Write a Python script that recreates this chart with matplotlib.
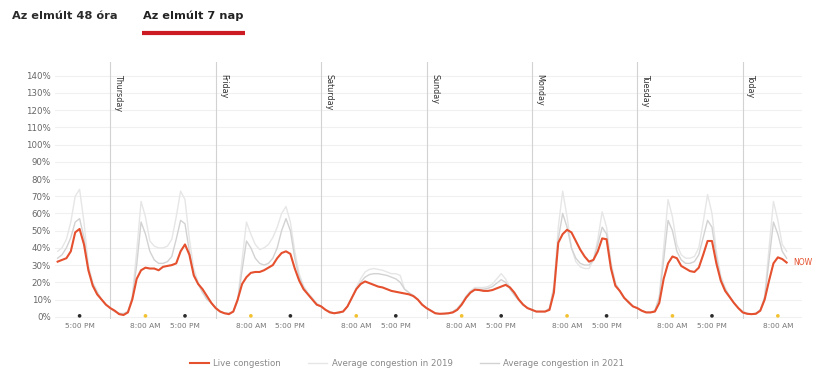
import numpy as np
import matplotlib
matplotlib.use("Agg")
import matplotlib.pyplot as plt

# Hours are counted from Thursday 00:00; the series begin on Wednesday 12:00.
start_hour = -12
day_names = ["Thursday", "Friday", "Saturday", "Sunday", "Monday", "Tuesday", "Today"]

live = [
    32, 33, 34, 38, 49, 51, 42, 27, 18, 13, 10, 7,                                   # Wed 12-23
    5, 3.5, 1.5, 1, 2.5, 10, 22, 27, 28.5, 28, 28, 27,
    29, 29.5, 30, 31, 38, 42, 36, 24, 19, 16, 12, 8,                                  # Thu
    5, 3, 2, 1.5, 3, 10, 19, 23, 25.5, 26, 26, 27,
    28.5, 30, 34, 37, 38, 36.5, 28, 21, 16, 13, 10, 7,                                # Fri
    6, 4, 2.5, 2, 2.5, 3, 6, 11, 16, 19, 20.5, 19.5,
    18.5, 17.5, 17, 16, 15, 14.5, 14, 13.5, 13, 12, 10, 7,                            # Sat
    5, 3.5, 2, 1.7, 1.8, 2, 2.5, 4, 7, 11, 14, 15.7,
    15.5, 15, 15, 15.5, 16.5, 17.5, 18.5, 17, 14, 10, 7, 5,                           # Sun
    4, 3, 3, 3, 4, 14, 43, 48, 50.5, 49, 44, 39,
    35, 32, 33, 38, 45.5, 45, 28, 18, 15, 11, 8.5, 6,                                 # Mon
    5, 3.5, 2.5, 2.5, 3, 8, 22, 31, 35, 34, 29.5, 28,
    26.5, 26, 28.5, 36, 44, 44, 31, 21, 15, 11.5, 8, 5,                               # Tue
    2.5, 1.7, 1.5, 1.7, 3.5, 10, 21, 31, 34.5, 33.5, 31.5,                            # Today 0-10
]

avg_2019 = [
    38, 40, 45, 55, 70, 74, 55, 30, 20, 15, 10, 7,
    5, 3, 2, 2, 3, 12, 38, 67, 58, 44, 41, 40,
    40, 41, 45, 58, 73, 68, 45, 28, 20, 15, 11, 8,
    5, 3, 2, 2, 3, 10, 33, 55, 48, 42, 39, 40,
    42, 46, 52, 60, 64, 55, 38, 25, 18, 14, 11, 8,
    6, 4, 3, 2, 2, 3, 6, 11, 17, 22, 26, 27.5,
    28, 27.5, 27, 26, 25, 25, 24, 16, 14, 12.5, 10, 7,
    5, 3.5, 2, 1.7, 1.8, 2, 3, 5, 8, 12, 15, 17,
    17, 17, 17.5, 19, 22, 25, 22, 17, 13, 10, 7, 5,
    4, 3, 3, 3, 5, 18, 52, 73, 58, 40, 32, 29,
    28, 28, 33, 45, 61, 52, 32, 20, 15, 11, 8, 6,
    5, 3.5, 2.5, 2.5, 3.5, 12, 40, 68, 58, 42, 36, 34,
    34, 35, 40, 55, 71, 60, 38, 24, 17, 12, 8, 5,
    3, 2, 1.5, 2, 4, 12, 40, 67, 56, 42, 38,
]

avg_2021 = [
    34, 36, 40, 46, 55, 57, 46, 28, 19, 14, 10, 7,
    5, 3, 2, 1.5, 3, 11, 30, 55, 48, 38, 33, 31,
    31, 32, 35, 45, 56, 54, 38, 25, 19, 14, 10, 8,
    5, 3, 2, 2, 3, 9, 27, 44, 40, 34, 31, 30,
    31, 34, 40, 50, 57, 50, 34, 23, 17, 13, 10, 7,
    6, 4, 3, 2, 2, 3, 6, 11, 16, 20, 23, 24.5,
    25, 25, 24.5, 24, 23, 22, 20, 16, 14, 12, 10, 7,
    5, 3.5, 2, 1.7, 1.8, 2, 3, 4.5, 7.5, 11.5, 14.5, 16,
    16, 16, 16.5, 17.5, 19.5, 21.5, 20, 16, 12.5, 9.5, 7, 5,
    4, 3, 3, 3, 5, 17, 45, 60, 52, 40, 34, 31,
    30, 30, 33, 42, 52, 48, 30, 19, 15, 11, 8, 6,
    5, 3.5, 2.5, 2.5, 3.5, 11, 33, 56, 50, 38, 33, 31,
    31, 32, 36, 46, 56, 52, 35, 22, 16, 12, 8, 5,
    3, 2, 1.5, 2, 4, 11, 33, 55, 48, 38, 34,
]

# Morning / evening markers under the axis
marker_hours = [-7] + [h for d in range(6) for h in (24 * d + 8, 24 * d + 17)] + [6 * 24 + 8]
marker_labels = ["5:00 PM"] + ["8:00 AM", "5:00 PM"] * 6 + ["8:00 AM"]
y_ticks = list(range(0, 141, 10))

RED = "#e5502e"
C2019 = "#e6e6e6"
C2021 = "#d2d2d2"

fig = plt.figure(figsize=(8.25, 3.74), dpi=100)
W, H = 825, 374
ax = fig.add_axes([55 / W, 1 - 319.3 / H, 747 / W, (319.3 - 62) / H])

x_live = start_hour + np.arange(len(live))
x_19 = start_hour + np.arange(len(avg_2019))
x_21 = start_hour + np.arange(len(avg_2021))

for v in y_ticks:
    ax.axhline(v, color="#f0f0f0", lw=0.8, zorder=0)
for d in range(len(day_names)):
    ax.axvline(24 * d, color="#d2d2d2", lw=0.8, zorder=1)
    ax.text(24 * d + 0.8, 141, day_names[d], rotation=-90, ha="left", va="top",
            fontsize=5.8, color="#333333", zorder=3)

ax.plot(x_19, avg_2019, color=C2019, lw=1.0, zorder=2, label="Average congestion in 2019")
ax.plot(x_21, avg_2021, color=C2021, lw=1.0, zorder=2, label="Average congestion in 2021")
ax.plot(x_live, live, color=RED, lw=1.5, zorder=4, solid_joinstyle="round",
        label="Live congestion")
ax.text(x_live[-1] + 1.5, live[-1], "NOW", color=RED, fontsize=5.5,
        ha="left", va="center", zorder=5)

dot_colors = ["#f2c230" if lab.startswith("8") else "#2b2b2b" for lab in marker_labels]
ax.scatter(marker_hours, [0.5] * len(marker_hours), s=7, c=dot_colors, zorder=5,
           clip_on=False, linewidths=0)

ax.set_xlim(-12.6, 157.5)
ax.set_ylim(-1.5, 148)
ax.set_yticks(y_ticks)
ax.set_yticklabels([f"{v}%" for v in y_ticks], fontsize=6.2, color="#666666")
ax.set_xticks(marker_hours)
ax.set_xticklabels(marker_labels, fontsize=5.3, color="#777777")
ax.tick_params(axis="both", length=0)
ax.tick_params(axis="y", pad=3)
ax.tick_params(axis="x", pad=2.5)
for s in ax.spines.values():
    s.set_visible(False)

# Tabs above the chart
fig.text(12 / W, 1 - 16 / H, "Az elmúlt 48 óra", fontsize=8.2, fontweight="bold",
         color="#2a2a2a", ha="left", va="center")
fig.text(143 / W, 1 - 16 / H, "Az elmúlt 7 nap", fontsize=8.2, fontweight="bold",
         color="#222222", ha="left", va="center")
fig.add_artist(plt.Line2D([142 / W, 245 / W], [1 - 33 / H, 1 - 33 / H],
                          color="#cc1b22", lw=3, solid_capstyle="butt"))

handles, labels = ax.get_legend_handles_labels()
order = [2, 0, 1]
leg = fig.legend([handles[i] for i in order], [labels[i] for i in order],
                 loc="center", bbox_to_anchor=(407 / W, 1 - 364 / H), ncol=3,
                 frameon=False, fontsize=6.2, handlelength=2.2, handletextpad=0.5,
                 columnspacing=3.2, labelcolor="#888888")

fig.savefig("out.png", dpi=100)
